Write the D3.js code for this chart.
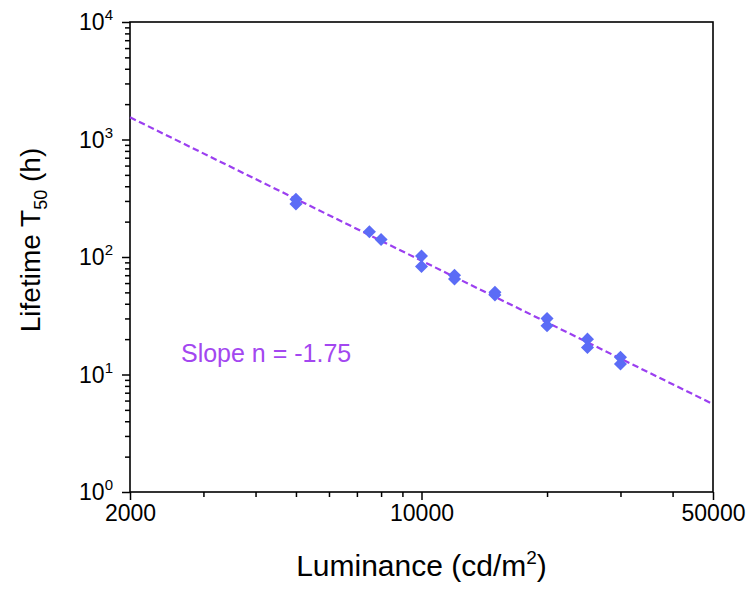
<!DOCTYPE html>
<html>
<head>
<meta charset="utf-8">
<script src="https://cdn.jsdelivr.net/npm/d3@7"></script>
<style>
  html, body { margin: 0; padding: 0; background: #fff; }
  svg { display: block; font-family: Arial, "Liberation Sans", sans-serif; }
</style>
</head>
<body>
<div id="chart"></div>
<script>
// Lebensdauer T50 gegen Leuchtdichte, log-log mit Fit-Gerade

const luminance = [5000, 5000, 7500, 8000, 10000, 10000, 12000, 12000, 15000, 15000, 20000, 20000, 25000, 25000, 30000, 30000];
const lifetime = [310, 282, 164, 141, 102, 83, 70, 65, 50, 47.5, 30, 26, 20, 17, 14, 12.3];

const fitLum = [2000, 50000];
const fitT50 = [1545, 5.6];

const xMajor = [2000, 10000, 50000];
const xMinor = [3000, 4000, 5000, 6000, 7000, 8000, 9000, 20000, 30000, 40000];
const yExp = [0, 1, 2, 3, 4];
const yMinor = [2, 3, 4, 5, 6, 7, 8, 9, 20, 30, 40, 50, 60, 70, 80, 90,
  200, 300, 400, 500, 600, 700, 800, 900, 2000, 3000, 4000, 5000, 6000, 7000, 8000, 9000];

const slopeLabel = "Slope n = -1.75";

const W = 753, H = 595;
const plot = { left: 130, right: 713, top: 22, bottom: 492 };

const svg = d3.select("#chart").append("svg")
  .attr("width", W).attr("height", H);

const x = d3.scaleLog().domain([2000, 50000]).range([plot.left, plot.right]);
const y = d3.scaleLog().domain([1, 10000]).range([plot.bottom, plot.top]);

// Rahmen
svg.append("rect")
  .attr("x", plot.left).attr("y", plot.top)
  .attr("width", plot.right - plot.left).attr("height", plot.bottom - plot.top)
  .attr("fill", "none").attr("stroke", "#000").attr("stroke-width", 1.6);

// x-Achse
const xAxisG = svg.append("g").attr("transform", `translate(0,${plot.bottom})`);
xAxisG.call(d3.axisBottom(x).tickValues(xMajor).tickSize(8).tickPadding(5).tickFormat(d3.format("d")));
xAxisG.append("g").call(d3.axisBottom(x).tickValues(xMinor).tickSize(5).tickFormat(""));
xAxisG.selectAll(".domain").remove();
xAxisG.selectAll("line").attr("stroke", "#000").attr("stroke-width", 1.5);
xAxisG.selectAll("text").attr("font-size", 23).attr("fill", "#000")
  .attr("font-family", "Arial, 'Liberation Sans', sans-serif");

// y-Achse
const yAxisG = svg.append("g").attr("transform", `translate(${plot.left},0)`);
yAxisG.call(d3.axisLeft(y).tickValues(yExp.map(e => Math.pow(10, e))).tickSize(8).tickFormat(""));
yAxisG.append("g").call(d3.axisLeft(y).tickValues(yMinor).tickSize(5).tickFormat(""));
yAxisG.selectAll(".domain").remove();
yAxisG.selectAll("line").attr("stroke", "#000").attr("stroke-width", 1.5);

const yLab = svg.append("g").selectAll("text").data(yExp).join("text")
  .attr("x", 113)
  .attr("y", e => y(Math.pow(10, e)) + 8)
  .attr("text-anchor", "end")
  .attr("font-size", 23)
  .attr("fill", "#000");
yLab.append("tspan").text("10");
yLab.append("tspan").attr("dy", -10).attr("font-size", 15).text(e => e);

// Fit-Linie
const line = d3.line().x(d => x(d[0])).y(d => y(d[1]));
svg.append("path")
  .datum(fitLum.map((l, i) => [l, fitT50[i]]))
  .attr("d", line)
  .attr("fill", "none")
  .attr("stroke", "#9b3ff0")
  .attr("stroke-width", 2.2)
  .attr("stroke-dasharray", "6.5,3.5");

// Messpunkte (Rauten)
const diamond = d3.symbol().type(d3.symbolSquare).size(85);
svg.append("g").selectAll("path").data(luminance).join("path")
  .attr("d", diamond)
  .attr("transform", (d, i) => `translate(${x(d)},${y(lifetime[i])}) rotate(45)`)
  .attr("fill", "#5b6cf6");

// Steigungs-Annotation
svg.append("text")
  .attr("x", x(2650)).attr("y", y(12.8))
  .attr("font-size", 25)
  .attr("fill", "#a347f0")
  .text(slopeLabel);

// Achsentitel
const xt = svg.append("text")
  .attr("x", (plot.left + plot.right) / 2).attr("y", 576)
  .attr("text-anchor", "middle")
  .attr("font-size", 30).attr("fill", "#000");
xt.append("tspan").text("Luminance (cd/m");
xt.append("tspan").attr("dy", -12).attr("font-size", 19).text("2");
xt.append("tspan").attr("dy", 12).text(")");

const yt = svg.append("text")
  .attr("transform", "translate(40,240) rotate(-90)")
  .attr("text-anchor", "middle")
  .attr("font-size", 28).attr("fill", "#000");
yt.append("tspan").text("Lifetime T");
yt.append("tspan").attr("dy", 7).attr("font-size", 18).text("50");
yt.append("tspan").attr("dy", -7).text(" (h)");
</script>
</body>
</html>
